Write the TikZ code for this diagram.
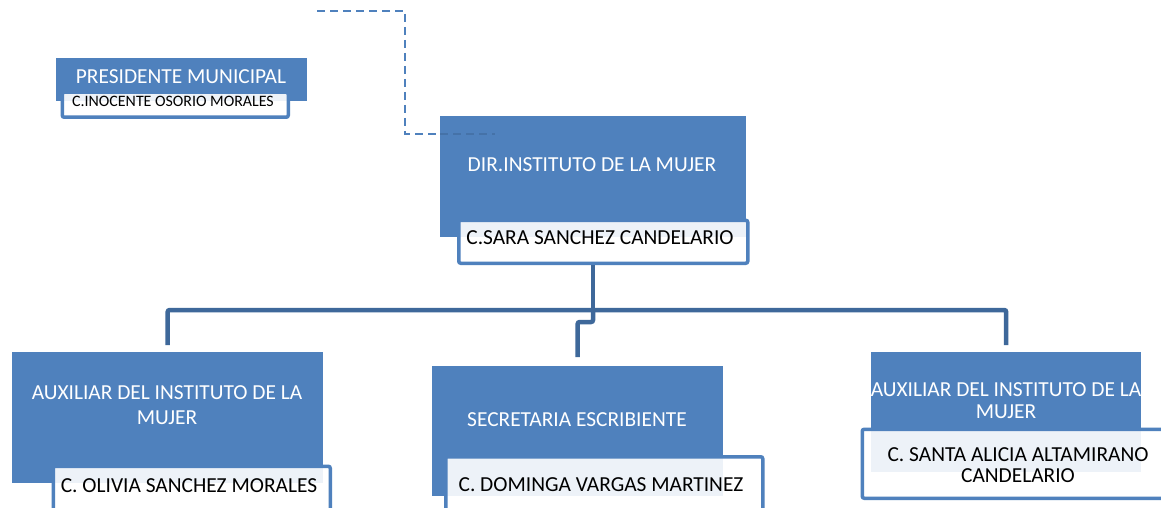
\documentclass[tikz,border=0pt]{standalone}
\usepackage{fontspec}
\setmainfont{Carlito}
\definecolor{boxblue}{RGB}{79,129,189}
\definecolor{connblue}{RGB}{62,104,154}
\tikzset{
  bluebox/.style={fill=boxblue, draw=none, inner sep=0pt, anchor=north west},
  namebox/.style={draw=boxblue, line width=3.5pt, fill=white, fill opacity=0.9, rounded corners=2pt, inner sep=0pt, anchor=north west},
  title/.style={text=white, font=\fontsize{21.4}{25}\selectfont, align=center, inner sep=0pt},
  person/.style={text=black, font=\fontsize{21.4}{21}\selectfont, align=center, inner sep=0pt},
  conn/.style={draw=connblue, line width=4.5pt, rounded corners=2pt},
  dashconn/.style={draw=boxblue, line width=2.5pt, dash pattern=on 8pt off 5pt}
}
\begin{document}
\begin{tikzpicture}[x=1pt,y=-1pt]
\clip (0,0) rectangle (1161,508);
\fill[white] (0,0) rectangle (1161,508);
% dashed assistant line
\coordinate (dstart) at (317,11);
% President
\node[bluebox, minimum width=251pt, minimum height=43pt] (pres) at (56,58) {};
\node[namebox, minimum width=226pt, minimum height=25pt] (presname) at (60.5,90.5) {};
\node[title] (prest) at (181,77) {PRESIDENTE MUNICIPAL};
\node[person, font=\fontsize{15.9}{18}\selectfont] (presnt) at (173,101) {C.INOCENTE OSORIO MORALES};
% Director
\node[bluebox, minimum width=306pt, minimum height=121pt] (dir) at (440,116) {};
\draw[dashconn] (dstart) -- (405,11) -- (405,134) -- (dir.west |- 0,134);
\draw[dashconn, draw=connblue!60!boxblue] (dir.west |- 0,134) -- (495,134);
\node[namebox, minimum width=289pt, minimum height=43pt] (dirname) at (457,218.5) {};
\node[title] (dirt) at (592,165) {DIR.INSTITUTO DE LA MUJER};
\node[person] (dirnt) at (600,238) {C.SARA SANCHEZ CANDELARIO};
% Left auxiliar
\node[bluebox, minimum width=311pt, minimum height=131pt] (auxl) at (12,352) {};
\node[namebox, minimum width=277pt, minimum height=60pt] (auxlname) at (51.5,464.5) {};
\node[title] (auxlt) at (167,405) {AUXILIAR DEL INSTITUTO DE LA\\MUJER};
\node[person] (auxlnt) at (189,486) {C. OLIVIA SANCHEZ MORALES};
% Secretaria
\node[bluebox, minimum width=291pt, minimum height=130pt] (secr) at (432,366) {};
\node[namebox, minimum width=317pt, minimum height=70pt] (secrname) at (444,455) {};
\node[title] (secrt) at (577,420) {SECRETARIA ESCRIBIENTE};
\node[person] (secrnt) at (601,485) {C. DOMINGA VARGAS MARTINEZ};
% Right auxiliar
\node[bluebox, minimum width=270pt, minimum height=120pt] (auxr) at (871,352) {};
\node[namebox, minimum width=330pt, minimum height=69pt] (auxrname) at (860.5,427.5) {};
\node[title, font=\fontsize{21.4}{22}\selectfont] (auxrt) at (1006,401) {AUXILIAR DEL INSTITUTO DE LA\\MUJER};
\node[person] (auxrnt) at (1018,465) {C. SANTA ALICIA ALTAMIRANO\\CANDELARIO};
% connectors
\coordinate (bar) at (593,310);
\draw[conn] (dirname.south -| bar) -- (bar);
\draw[conn] ([yshift=7pt]auxl.north) |- (bar) -| ([yshift=7pt]auxr.north);
\draw[conn] (bar) -- ++(0,12) -| ([yshift=9pt]secr.north);
\end{tikzpicture}
\end{document}
